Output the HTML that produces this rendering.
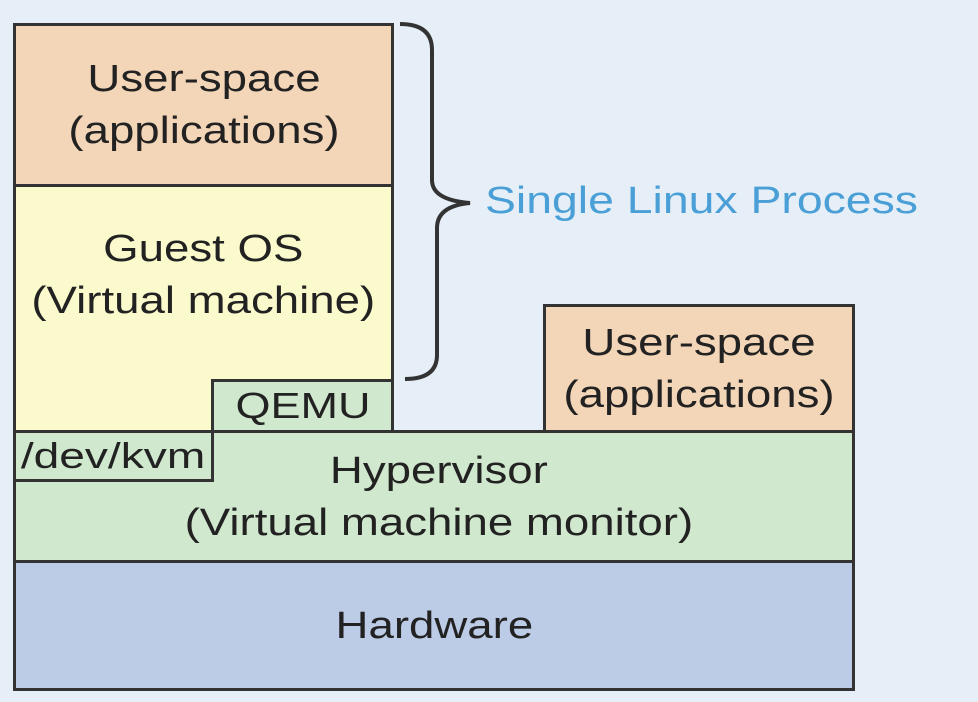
<!DOCTYPE html>
<html><head><style>
body{margin:0;width:978px;height:702px;background:#e6eff7;position:relative;overflow:hidden;font-family:"Liberation Sans",Arial,sans-serif;color:#222}
.b{position:absolute;box-sizing:border-box;border:3px solid #333;display:flex;align-items:center;justify-content:center;text-align:center;font-size:38px;line-height:52px}
.b span{display:inline-block;transform:scaleX(1.2);white-space:nowrap}
</style></head><body>
<div class="b" style="left:13px;top:23px;width:381px;height:164px;background:#f3d5b8;"><span>User-space<br>(applications)</span></div>
<div class="b" style="left:13px;top:184px;width:381px;height:249px;background:#fafacd;align-items:flex-start;padding-top:36px"><span>Guest OS<br>(Virtual machine)</span></div>
<div class="b" style="left:13px;top:430px;width:842px;height:133px;background:#d0e8cd;padding-top:0px;padding-left:10px"><span>Hypervisor<br>(Virtual machine monitor)</span></div>
<div class="b" style="left:211px;top:379px;width:183px;height:54px;background:#d0e8cd;font-size:36px"><span style="transform:scaleX(1.25)">QEMU</span></div>
<div class="b" style="left:13px;top:430px;width:201px;height:52px;background:#d0e8cd;font-size:36px"><span style="transform:scaleX(1.28)">/dev/kvm</span></div>
<div class="b" style="left:543px;top:304px;width:312px;height:129px;background:#f3d5b8;"><span>User-space<br>(applications)</span></div>
<div class="b" style="left:13px;top:560px;width:842px;height:131px;background:#bccbe6;"><span>Hardware</span></div>
<svg style="position:absolute;left:0;top:0" width="978" height="702">
<path d="M400 24 Q432 24 432 50 L432 180 Q432 200 470 203 Q437 206 437 228 L437 355 Q437 379 405 379" fill="none" stroke="#333" stroke-width="4"/>
</svg>
<div style="position:absolute;left:485px;top:180px;font-size:38px;color:#4a9fd6;transform:scaleX(1.22);transform-origin:left center;white-space:nowrap">Single Linux Process</div>
</body></html>
